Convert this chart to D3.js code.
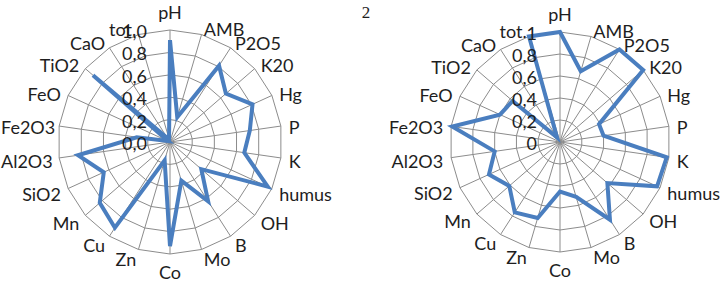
<!DOCTYPE html>
<html><head><meta charset="utf-8">
<script src="https://cdn.jsdelivr.net/npm/d3@7"></script>
<style>html,body{margin:0;padding:0;background:#fff;}svg{display:block;}</style>
</head><body>
<svg id="c" width="727" height="283"></svg>
<script>
const categories = ["pH","AMB","P2O5","K20","Hg","P","K","humus","OH","B","Mo","Co","Zn","Cu","Mn","SiO2","Al2O3","Fe2O3","FeO","TiO2","CaO","tot."];
const series1 = [0.91,0.23,0.81,0.66,0.81,0.72,0.67,0.96,0.37,0.63,0.36,0.93,0.17,0.91,0.83,0.65,0.83,0.30,0.02,0.91,0.04,0.03];
const series2 = [1.0,0.67,1.0,1.0,0.39,0.40,0.98,0.97,0.57,0.84,0.52,0.45,0.72,0.76,0.61,0.71,0.60,0.99,0.60,0.57,0.05,1.0];
const ticks = [0,0.2,0.4,0.6,0.8,1.0];
const tickLabels1 = ["0,0","0,2","0,4","0,6","0,8","1,0"];
const tickLabels2 = ["0","0,2","0,4","0,6","0,8","1"];
const title2 = "2";

const svg = d3.select("#c");
const font = "Lato, 'Open Sans', sans-serif";
const blue = "#4A7EBF";

function radar(cx, cy, R, values, tickLabels) {
  const g = svg.append("g").attr("transform", `translate(${cx},${cy})`);
  const r = d3.scaleLinear().domain([0,1]).range([0,R]);
  const step = 2*Math.PI/categories.length;
  const a = (i) => i*step;
  const pt = (i, v) => [Math.sin(a(i))*r(v), -Math.cos(a(i))*r(v)];
  ticks.slice(1).forEach(t => {
    g.append("path")
      .attr("d", d3.line()(categories.map((c,i)=>pt(i,t))) + "Z")
      .attr("fill","none").attr("stroke","#8c8c8c").attr("stroke-width",1);
  });
  categories.forEach((c,i) => {
    const p = pt(i,1);
    g.append("line").attr("x1",0).attr("y1",0).attr("x2",p[0]).attr("y2",p[1])
      .attr("stroke","#8c8c8c").attr("stroke-width",1);
  });
  const line = d3.lineRadial().angle((d,i)=>a(i)).radius(d=>r(d)).curve(d3.curveLinearClosed);
  g.append("path").attr("d", line(values))
    .attr("fill","none").attr("stroke",blue).attr("stroke-width",4).attr("stroke-linejoin","miter");
  categories.forEach((c,i) => {
    const s = Math.sin(a(i)), co = Math.cos(a(i));
    const p = pt(i, 1 + 8/R);
    let anchor = "middle", dy = 2;
    if (Math.abs(s) < 0.01) { dy = co > 0 ? -10 : 10; }
    else anchor = s > 0 ? "start" : "end";
    const t = g.append("text").attr("x", p[0]).attr("y", p[1] + dy)
      .attr("text-anchor", anchor).attr("dominant-baseline","central")
      .attr("font-family", font).attr("font-size", 18).attr("fill","#1e1e1e").text(c);
    const bb = t.node().getBBox();
    if (cx + bb.x < 1) t.attr("x", p[0] + (1 - (cx + bb.x)));
  });
  ticks.forEach((t,k) => {
    g.append("text").attr("x", -23).attr("y", -r(t) + 1)
      .attr("text-anchor","end").attr("dominant-baseline","central")
      .attr("font-family", font).attr("font-size", 18).attr("fill","#1e1e1e").text(tickLabels[k]);
  });
}

radar(170, 142, 112, series1, tickLabels1);
radar(560, 142, 110, series2, tickLabels2);

svg.append("text").attr("x", 366).attr("y", 12).attr("text-anchor","middle")
  .attr("dominant-baseline","central").attr("font-family","'Liberation Serif', serif")
  .attr("font-size", 17).attr("fill","#1e1e1e").text(title2);
</script>
</body></html>
